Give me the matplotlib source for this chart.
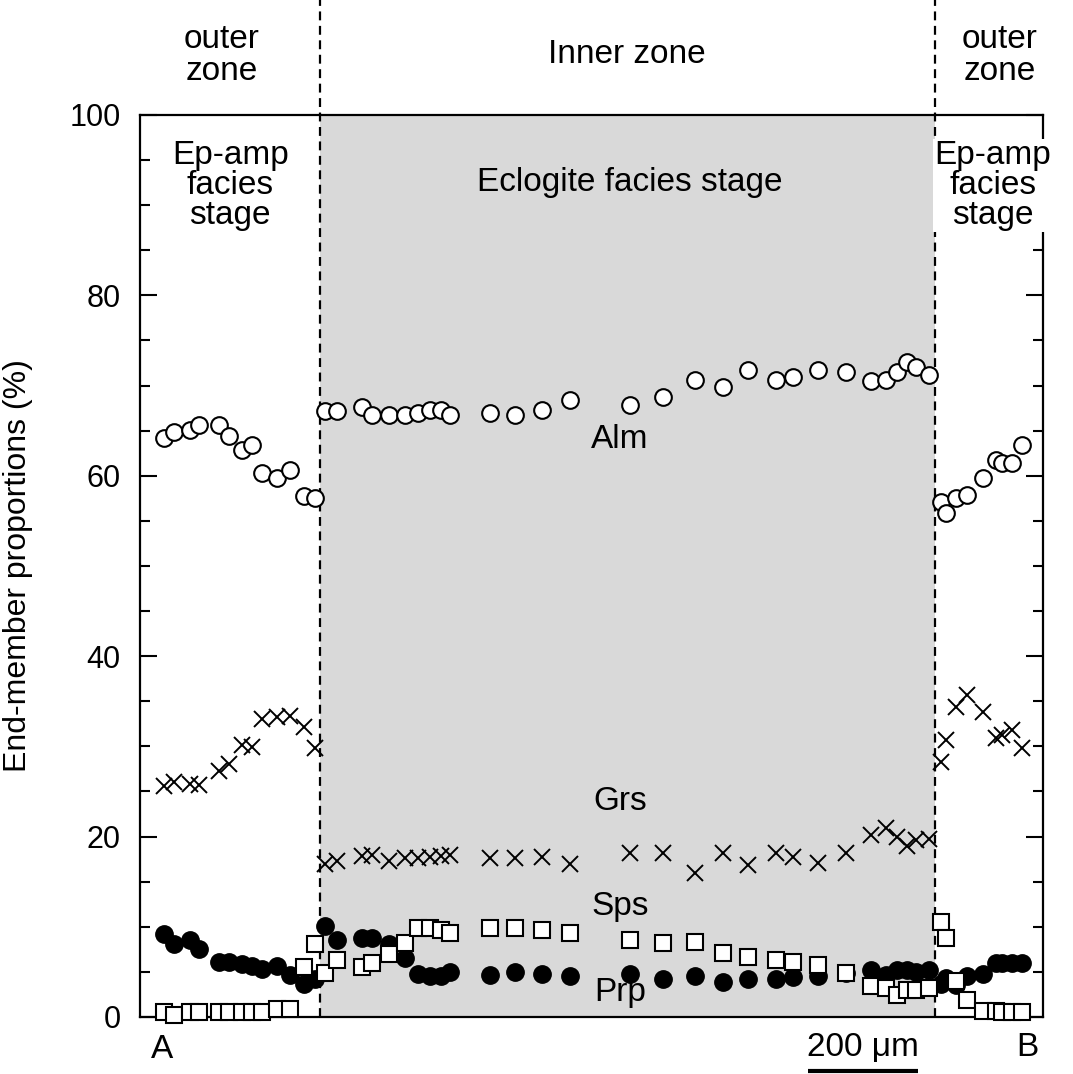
import matplotlib
matplotlib.use("Agg")
import matplotlib.pyplot as plt
from matplotlib.ticker import MultipleLocator
import matplotlib.transforms as mtransforms

plt.rcParams['font.family'] = ['Liberation Sans', 'DejaVu Sans']

# Distance along profile A-B (micrometres)
dist = [44, 62, 90, 108, 144, 162, 185, 204, 222, 249, 272, 298, 319,
        336, 359, 404, 422, 453, 482, 505, 528, 547, 564, 636, 682, 731, 782,
        891, 951, 1010, 1060, 1105, 1156, 1187, 1233, 1284, 1329, 1357, 1376,
        1394, 1412, 1434,
        1456, 1465, 1484, 1503, 1533, 1556, 1568, 1585, 1603]

alm = [64.2, 64.8, 65.1, 65.6, 65.6, 64.4, 62.8, 63.4, 60.3, 59.8, 60.6, 57.8, 57.5,
       67.2, 67.2, 67.6, 66.7, 66.7, 66.7, 67.0, 67.3, 67.3, 66.7, 67.0, 66.7, 67.3, 68.4,
       67.8, 68.7, 70.6, 69.8, 71.7, 70.6, 70.9, 71.7, 71.5, 70.5, 70.6, 71.5,
       72.6, 72.0, 71.2,
       57.1, 55.9, 57.5, 57.9, 59.7, 61.8, 61.4, 61.4, 63.4]

grs = [25.6, 26.0, 25.8, 25.7, 27.3, 28.0, 30.2, 29.9, 33.0, 33.2, 33.4, 32.2, 29.8,
       17.0, 17.3, 17.8, 18.0, 17.3, 17.6, 17.6, 17.7, 17.9, 18.0, 17.6, 17.6, 17.7, 17.0,
       18.2, 18.2, 16.0, 18.2, 16.9, 18.2, 17.7, 17.1, 18.2, 20.2, 20.9, 20.0,
       19.0, 19.6, 19.7,
       28.3, 30.7, 34.4, 35.7, 33.8, 30.9, 31.3, 31.8, 29.8]

sps = [0.6, 0.2, 0.6, 0.6, 0.6, 0.6, 0.6, 0.6, 0.6, 0.85, 0.85, 5.5, 8.1,
       4.9, 6.3, 5.5, 6.0, 7.0, 8.2, 9.9, 9.9, 9.6, 9.3, 9.9, 9.9, 9.6, 9.3,
       8.5, 8.2, 8.3, 7.1, 6.6, 6.3, 6.1, 5.8, 4.9, 3.4, 3.2, 2.4,
       3.0, 3.0, 3.2,
       10.5, 8.7, 4.0, 1.9, 0.7, 0.7, 0.6, 0.6, 0.6]

prp = [9.2, 8.1, 8.5, 7.5, 6.1, 6.1, 5.9, 5.6, 5.3, 5.7, 4.7, 3.6, 4.2,
       10.1, 8.5, 8.7, 8.7, 8.1, 6.5, 4.8, 4.5, 4.5, 5.0, 4.6, 5.0, 4.8, 4.5,
       4.8, 4.2, 4.5, 3.9, 4.2, 4.2, 4.4, 4.5, 4.9, 5.2, 4.7, 5.2,
       5.2, 5.0, 5.2,
       3.7, 4.3, 3.5, 4.5, 4.8, 6.0, 6.0, 6.0, 6.0]

zone_bounds = [327, 1445]          # inner zone limits (µm)
x_max = 1642
scale_bar = [1214, 1414]           # 200 µm bar

fig = plt.figure(figsize=(10.73, 10.74), dpi=100)
ax = fig.add_axes([0.1305, 0.0531, 0.8415, 0.8399])

ax.axvspan(zone_bounds[0], zone_bounds[1], color='#d9d9d9', lw=0, zorder=0)

trans = mtransforms.blended_transform_factory(ax.transData, ax.transAxes)
for xb in zone_bounds:
    ax.plot([xb, xb], [0, 1.128], transform=trans, color='black', lw=1.6,
            ls=(0, (4, 2.5)), clip_on=False, zorder=1)

ax.plot(dist, prp, 'o', color='black', ms=12.5, mec='black', zorder=3, clip_on=False)
ax.plot(dist, sps, 's', mfc='white', mec='black', ms=11, mew=1.5, zorder=4, clip_on=False)
ax.plot(dist, alm, 'o', mfc='white', mec='black', ms=12, mew=1.5, zorder=4, clip_on=False)
ax.plot(dist, grs, 'x', color='black', ms=11, mew=1.4, zorder=4, clip_on=False)

ax.set_xlim(0, x_max)
ax.set_ylim(0, 100)
ax.yaxis.set_major_locator(MultipleLocator(20))
ax.yaxis.set_minor_locator(MultipleLocator(5))
ax.set_xticks([])
ax.tick_params(axis='y', which='both', direction='in', left=True, right=True,
               labelsize=22, pad=14)
ax.tick_params(axis='y', which='major', length=12, width=1.5)
ax.tick_params(axis='y', which='minor', length=7, width=1.5)
for s in ax.spines.values():
    s.set_linewidth(1.6)

ax.set_ylabel('End-member proportions (%)', fontsize=23)
ax.yaxis.set_label_coords(-0.118, 0.5)

fs = 24
ls = 0.95
ax.text(149, 1.066, 'outer\nzone', transform=trans, ha='center', va='center',
        fontsize=fs, linespacing=1.05)
ax.text(885, 1.067, 'Inner zone', transform=trans, ha='center', va='center', fontsize=fs)
ax.text(1563, 1.066, 'outer\nzone', transform=trans, ha='center', va='center',
        fontsize=fs, linespacing=1.05)

ax.text(164, 92.2, 'Ep-amp\nfacies\nstage', ha='center', va='center', fontsize=fs,
        linespacing=ls, zorder=5)
ax.text(891, 92.5, 'Eclogite facies stage', ha='center', va='center', fontsize=fs, zorder=5)
ax.text(1551, 92.2, 'Ep-amp\nfacies\nstage', ha='center', va='center', fontsize=fs,
        linespacing=ls, zorder=6,
        bbox=dict(facecolor='white', edgecolor='none', pad=1), clip_on=False)

ax.text(873, 64.0, 'Alm', ha='center', va='center', fontsize=fs, zorder=5)
ax.text(873, 23.9, 'Grs', ha='center', va='center', fontsize=fs, zorder=5)
ax.text(873, 12.2, 'Sps', ha='center', va='center', fontsize=fs, zorder=5)
ax.text(873, 2.7, 'Prp', ha='center', va='center', fontsize=fs, zorder=5)

ax.text(40, -3.6, 'A', ha='center', va='center', fontsize=fs, clip_on=False)
ax.text(1613, -3.4, 'B', ha='center', va='center', fontsize=fs, clip_on=False)
ax.text(sum(scale_bar) / 2, -3.4, '200 μm', ha='center', va='center', fontsize=fs,
        clip_on=False)
ax.plot(scale_bar, [-6.0, -6.0], color='black', lw=3, clip_on=False, solid_capstyle='butt')

fig.savefig('out.png', dpi=100)
